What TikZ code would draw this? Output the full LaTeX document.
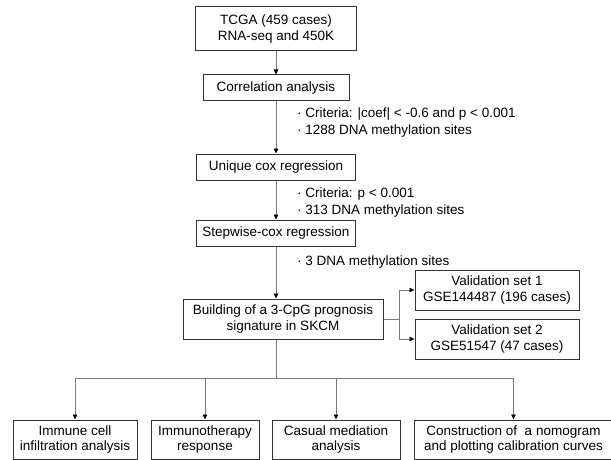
\documentclass[tikz,border=0pt]{standalone}
\usepackage{fontspec}
\setmainfont{Liberation Sans}
\usetikzlibrary{arrows.meta}
\usetikzlibrary{positioning}

\definecolor{boxline}{HTML}{333333}
\definecolor{wire}{HTML}{7A7A7A}

\tikzset{
  stage/.style={draw=boxline, line width=1pt, align=center, inner sep=2pt,
    font=\fontsize{13.5}{15.5}\selectfont},
  note/.style={align=left, inner sep=0pt, anchor=west,
    font=\fontsize{13.5}{17}\selectfont},
  wireline/.style={draw=wire, line width=0.8pt},
  flow/.style={wireline, -{Triangle[length=5pt,width=4.5pt,color=black]}}
}

\begin{document}
\begin{tikzpicture}[x=1pt, y=-1pt]
    \useasboundingbox (0,0) rectangle (611,460);

    \node (tcga) [stage, minimum width=161pt, minimum height=44pt] at (276,29) {TCGA (459 cases)\\RNA-seq and 450K};
    \node (corr) [stage, minimum width=146pt, minimum height=26pt, below = 23pt of tcga] {Correlation analysis};
    \node (uni) [stage, minimum width=159pt, minimum height=26pt, below = 52pt of corr] {Unique cox regression};
    \node (stepw) [stage, minimum width=159pt, minimum height=26pt, below = 39pt of uni] {Stepwise-cox regression};
    \node (build) [stage, minimum width=200pt, minimum height=40pt, below = 52pt of stepw, xshift=7pt] {Building of a 3-CpG prognosis\\signature in SKCM};

    \node (val1) [stage, minimum width=164pt, minimum height=40pt] at (497,290) {Validation set 1\\GSE144487 (196 cases)};
    \node (val2) [stage, minimum width=164pt, minimum height=40pt, below = 8pt of val1] {Validation set 2\\GSE51547 (47 cases)};

    \node (imm) [stage, minimum width=124pt, minimum height=39pt] at (75,439.5) {Immune cell\\infiltration analysis};
    \node (ther) [stage, minimum width=108pt, minimum height=39pt, right = 13pt of imm] {Immunotherapy\\response};
    \node (med) [stage, minimum width=128pt, minimum height=39pt, right = 12pt of ther] {Casual mediation\\analysis};
    \node (nomo) [stage, minimum width=199pt, minimum height=39pt, right = 13pt of med] {Construction of\ \ a nomogram\\and plotting calibration curves};

    % filtering notes beside the main line
    \node (crit1) [note] at (297,123) {\textperiodcentered{} Criteria: |coef| < -0.6 and p < 0.001\\\textperiodcentered{} 1288 DNA methylation sites};
    \node (crit2) [note] at (297,203) {\textperiodcentered{} Criteria: p < 0.001\\\textperiodcentered{} 313 DNA methylation sites};
    \node (crit3) [note] at (297,262) {\textperiodcentered{} 3 DNA methylation sites};

    \draw [flow] (tcga) -- (corr);
    \draw [flow] (corr) -- (uni);
    \draw [flow] (uni) -- (stepw);
    \draw [flow] (stepw) -- (stepw |- build.north);

    % split to the validation sets
    \draw [wireline] (build.east) -- ++(16,0) coordinate (fork);
    \draw [flow] (fork) |- (val1.west);
    \draw [flow] (fork) |- (val2.west);

    % split to the downstream analyses
    \coordinate (bus) at (276,378);
    \draw [wireline] (build.south -| stepw) -- (bus);
    \foreach \n in {imm,ther,med,nomo}
      \draw [flow] (bus) -| (\n.north);
\end{tikzpicture}
\end{document}
